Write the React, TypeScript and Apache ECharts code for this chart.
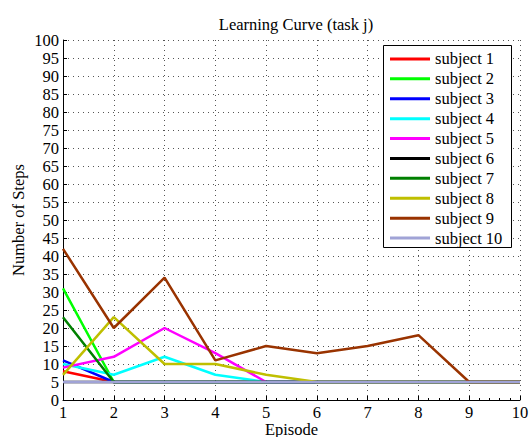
import React, { useEffect, useRef } from "react";
import * as echarts from "echarts";

const episodes = [1, 2, 3, 4, 5, 6, 7, 8, 9, 10];
const subjectNames = [
  "subject 1", "subject 2", "subject 3", "subject 4", "subject 5",
  "subject 6", "subject 7", "subject 8", "subject 9", "subject 10",
];
const subject1 = [8, 5, 5, 5, 5, 5, 5, 5, 5, 5];
const subject2 = [31, 5, 5, 5, 5, 5, 5, 5, 5, 5];
const subject3 = [11, 5, 5, 5, 5, 5, 5, 5, 5, 5];
const subject4 = [10, 7, 12, 7, 5, 5, 5, 5, 5, 5];
const subject5 = [9, 12, 20, 13, 5, 5, 5, 5, 5, 5];
const subject6 = [5, 5, 5, 5, 5, 5, 5, 5, 5, 5];
const subject7 = [23, 5, 5, 5, 5, 5, 5, 5, 5, 5];
const subject8 = [7, 23, 10, 10, 7, 5, 5, 5, 5, 5];
const subject9 = [42, 20, 34, 11, 15, 13, 15, 18, 5, 5];
const subject10 = [5, 5, 5, 5, 5, 5, 5, 5, 5, 5];
const allSubjects = [subject1, subject2, subject3, subject4, subject5, subject6, subject7, subject8, subject9, subject10];
const colors = ["#ff0000", "#00ff00", "#0000ff", "#00ffff", "#ff00ff", "#000000", "#008000", "#bfbf00", "#993300", "#a0a3d6"];

const FONT = "'Liberation Serif', 'Times New Roman', serif";
const FS = 16.5;

export default function App() {
  const ref = useRef<HTMLDivElement>(null);
  useEffect(() => {
    if (!ref.current) return;
    const chart = echarts.init(ref.current, undefined, { renderer: "svg" });
    chart.setOption({
      animation: false,
      backgroundColor: "#ffffff",
      title: {
        text: "Learning Curve (task j)",
        left: 291,
        textAlign: "center",
        top: 11,
        textStyle: { fontFamily: FONT, fontSize: FS, fontWeight: "normal", color: "#000" },
      },
      graphic: [
        {
          type: "rect",
          z: 15,
          shape: { x: 383.5, y: 45.5, width: 128, height: 202 },
          style: { fill: "#fff", stroke: "#000", lineWidth: 1 },
        },
      ],
      legend: {
        z: 20,
        orient: "vertical",
        left: 383,
        top: 45,
        padding: [4, 8, 0, 7],
        itemGap: 0,
        itemWidth: 40,
        itemHeight: 3,
        icon: "rect",
        borderWidth: 0,
        data: subjectNames,
        textStyle: { fontFamily: FONT, fontSize: FS, lineHeight: 19.9, color: "#000" },
      },
      grid: { left: 63, right: 9, top: 40, bottom: 37, containLabel: false, outerBoundsMode: "none" },
      xAxis: {
        type: "value",
        min: 1,
        max: 10,
        interval: 1,
        name: "Episode",
        nameLocation: "middle",
        nameGap: 21,
        nameMoveOverlap: false,
        nameTextStyle: { fontFamily: FONT, fontSize: FS, color: "#000" },
        axisLine: { show: true, onZero: false, lineStyle: { color: "#000", width: 1 } },
        axisTick: { show: true, inside: true, length: 4, lineStyle: { color: "#000" } },
        minorTick: { show: true, splitNumber: 5, length: 2, lineStyle: { color: "#000" } },
        axisLabel: { fontFamily: FONT, fontSize: FS, color: "#000", margin: 4 },
        splitLine: { show: true, lineStyle: { color: "#555", type: [1, 4], width: 1 } },
      },
      yAxis: {
        type: "value",
        min: 0,
        max: 100,
        interval: 5,
        name: "Number of Steps",
        nameLocation: "middle",
        nameGap: 36,
        nameMoveOverlap: false,
        nameTextStyle: { fontFamily: FONT, fontSize: FS, color: "#000" },
        axisLine: { show: true, lineStyle: { color: "#000", width: 1 } },
        axisTick: { show: true, inside: true, length: 4, lineStyle: { color: "#000" } },
        axisLabel: { fontFamily: FONT, fontSize: FS, color: "#000", margin: 4 },
        splitLine: { show: true, lineStyle: { color: "#555", type: [1, 4], width: 1 } },
      },
      series: allSubjects.map((vals, i) => ({
        name: subjectNames[i],
        type: "line",
        symbol: "none",
        data: episodes.map((e, j) => [e, vals[j]]),
        lineStyle: { color: colors[i], width: 2.5 },
        itemStyle: { color: colors[i] },
        z: 2 + i,
      })),
    });
    return () => chart.dispose();
  }, []);
  return <div ref={ref} style={{ position: "fixed", left: 0, top: 0, width: 529, height: 437 }} />;
}
